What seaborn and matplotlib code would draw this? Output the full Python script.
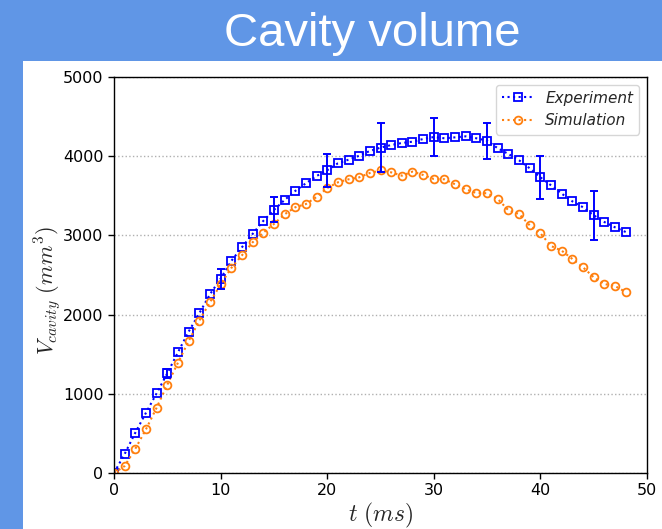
import numpy as np
import pandas as pd
import matplotlib
matplotlib.use("Agg")
import matplotlib.pyplot as plt
import seaborn as sns
from matplotlib.patches import Rectangle

# ---- data ----
t_ms = list(range(0, 49))
experiment = [0, 240, 509, 761, 1006, 1259, 1524, 1784, 2016, 2256,
              2453, 2677, 2850, 3018, 3182, 3321, 3447, 3561, 3658, 3750,
              3822, 3910, 3956, 4006, 4066, 4108, 4141, 4167, 4183, 4217,
              4242, 4226, 4238, 4251, 4226, 4196, 4100, 4028, 3948, 3847,
              3733, 3632, 3527, 3430, 3355, 3254, 3169, 3102, 3043]
simulation = [0, 88, 307, 552, 825, 1115, 1393, 1665, 1923, 2155,
              2383, 2588, 2748, 2913, 3034, 3144, 3266, 3355, 3396, 3485,
              3598, 3670, 3708, 3733, 3788, 3820, 3796, 3754, 3805, 3763,
              3712, 3708, 3645, 3582, 3535, 3532, 3460, 3317, 3270, 3127,
              3026, 2866, 2807, 2702, 2597, 2471, 2386, 2361, 2285]
err_t = [5, 10, 15, 20, 25, 30, 35, 40, 45]
err_size = [60, 125, 158, 206, 305, 240, 227, 273, 307]
x_ticks = [0, 10, 20, 30, 40, 50]
y_ticks = [0, 1000, 2000, 3000, 4000, 5000]

exp_df = pd.DataFrame({"t": t_ms, "V": experiment})
sim_df = pd.DataFrame({"t": t_ms, "V": simulation})
err_df = pd.DataFrame({"t": err_t, "V": [experiment[t_ms.index(x)] for x in err_t], "e": err_size})

sns.set_style("ticks")
plt.rcParams["font.family"] = ["DejaVu Sans"]
plt.rcParams["mathtext.fontset"] = "cm"

BLUE_BG = "#6096E6"
fig = plt.figure(figsize=(6.62, 5.29), dpi=100)
fig.patch.set_facecolor(BLUE_BG)
fig.patches.append(Rectangle((23 / 662, 0), 1 - 23 / 662, 1 - 61 / 529,
                             transform=fig.transFigure, facecolor="white",
                             edgecolor="none", zorder=-10))
fig.text(372 / 662, 1 - 46 / 529, "Cavity volume", color="white",
         fontsize=34, family="Liberation Sans", ha="center", va="baseline")

ax = fig.add_axes([114 / 662, 1 - 473 / 529, (647 - 114) / 662, (473 - 77) / 529])
ax.set_zorder(1)
ax.set_facecolor("white")

sns.lineplot(data=exp_df, x="t", y="V", ax=ax, color="#0000FF", marker="s",
             linestyle=":", linewidth=1.5, label="Experiment")
sns.lineplot(data=sim_df, x="t", y="V", ax=ax, color="#ff7f0e", marker="o",
             linestyle=":", linewidth=1.5, label="Simulation")
for line, c, ms in zip(ax.lines[:2], ["#0000FF", "#ff7f0e"], [5.2, 5.6]):
    line.set_markerfacecolor("none")
    line.set_markeredgecolor(c)
    line.set_markeredgewidth(1.3)
    line.set_markersize(ms)

ax.errorbar(err_df["t"], err_df["V"], yerr=err_df["e"], fmt="none",
            ecolor="#0000FF", elinewidth=1.4, capsize=3, capthick=1.4)

ax.set_xlim(0, 50)
ax.set_ylim(0, 5000)
ax.set_xticks(x_ticks)
ax.set_yticks(y_ticks)
ax.tick_params(labelsize=11.5, direction="out", length=4, width=1, colors="black")
ax.yaxis.grid(True, linestyle=":", color="#b0b0b0", linewidth=1)
ax.xaxis.grid(False)
for s in ax.spines.values():
    s.set_visible(True)
    s.set_color("black")
    s.set_linewidth(1)

ax.set_xlabel(r"$t\ (ms)$", fontsize=17, labelpad=2)
ax.set_ylabel(r"$V_{cavity}\ (mm^3)$", fontsize=16)
ax.yaxis.set_label_coords(-0.096, 0.46)

leg = ax.legend(loc="upper right", prop={"style": "italic", "size": 11},
                frameon=True, handlelength=2)
leg.get_frame().set_edgecolor("#cccccc")
for h in leg.legend_handles:
    h.set_markerfacecolor("none")
    h.set_markeredgewidth(1.3)

fig.savefig("out.png", dpi=100, facecolor=fig.get_facecolor())
